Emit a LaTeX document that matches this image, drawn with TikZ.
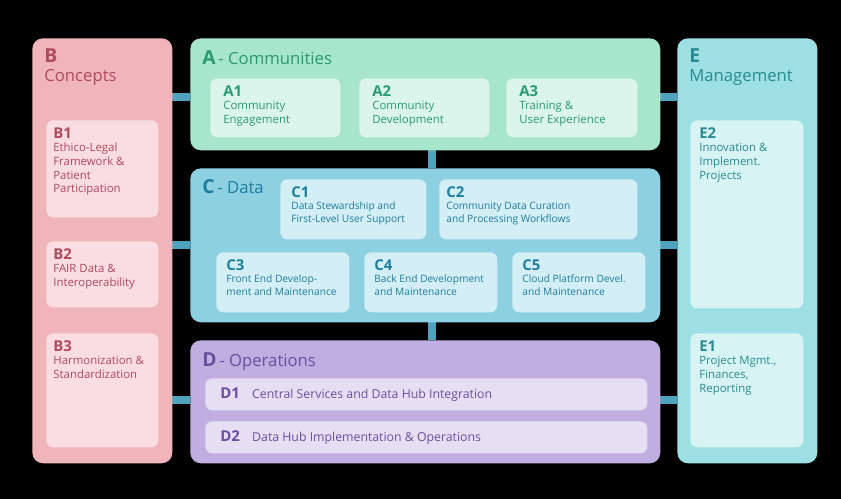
\documentclass[tikz,border=0pt]{standalone}
\usepackage{fontspec}
\setmainfont{Open Sans}
\usetikzlibrary{positioning}
\definecolor{bFill}{HTML}{F0B5BB}\definecolor{bIn}{HTML}{FADDE0}\definecolor{bTxt}{HTML}{B04A5E}
\definecolor{aFill}{HTML}{A8E6CC}\definecolor{aIn}{HTML}{DCF5EC}\definecolor{aTxt}{HTML}{2A9A72}
\definecolor{cFill}{HTML}{8DD0E2}\definecolor{cIn}{HTML}{D3EEF5}\definecolor{cTxt}{HTML}{1E7E9E}
\definecolor{dFill}{HTML}{C0AEE0}\definecolor{dIn}{HTML}{E6DEF3}\definecolor{dTxt}{HTML}{6A4FA0}
\definecolor{eFill}{HTML}{9DE0E4}\definecolor{eIn}{HTML}{D8F3F4}\definecolor{eTxt}{HTML}{2A8A90}
\definecolor{barCol}{HTML}{4FA3BC}
\tikzset{
  outer/.style={rectangle, rounded corners=6pt, inner sep=0pt, anchor=north west},
  inbox/.style={rectangle, rounded corners=4pt, inner sep=0pt, anchor=north west},
  title/.style={anchor=north west, inner sep=0pt, font=\fontsize{9.5}{11}\selectfont, align=left},
  label/.style={anchor=north west, inner sep=0pt, font=\fontsize{6.5}{7.8}\selectfont, align=left},
  bar/.style={line width=4pt},
}
\newcommand{\boxat}[6]{% name, fill colour, x1, y1, x2, y2
  \node (#1)[inbox, fill=#2, minimum width={(#5-#3)*0.02cm}, minimum height={(#6-#4)*0.02cm}] at (#3,#4) {};}
\begin{document}
\begin{tikzpicture}[x=0.02cm, y=-0.02cm]
\fill[black] (0,0) rectangle (841,499);
% connectors
\draw[bar, barCol] (172,97) -- (190,97) (172,245) -- (190,245) (172,400) -- (190,400)
  (660,97) -- (677,97) (660,245) -- (677,245) (660,400) -- (677,400)
  (432,150) -- (432,168) (432,322) -- (432,340);
% outer boxes
\node (B)[outer, fill=bFill, minimum width=2.8cm, minimum height=8.5cm] at (32,38) {};
\node (A)[outer, fill=aFill, minimum width=9.4cm, minimum height=2.24cm] at (190,38) {};
\node (C)[outer, fill=cFill, minimum width=9.4cm, minimum height=3.08cm] at (190,168) {};
\node (D)[outer, fill=dFill, minimum width=9.4cm, minimum height=2.46cm] at (190,340) {};
\node (E)[outer, fill=eFill, minimum width=2.8cm, minimum height=8.5cm] at (677,38) {};
\node[title, text=bTxt] at (44,48) {\textbf{\fontsize{11}{12}\selectfont B}\\Concepts};
\node[title, text=aTxt] at (202,50) {\textbf{\fontsize{11}{12}\selectfont A}\,- Communities};
\node[title, text=cTxt] at (202,179) {\textbf{\fontsize{11}{12}\selectfont C}\,- Data};
\node[title, text=dTxt] at (202,352) {\textbf{\fontsize{11}{12}\selectfont D}\,- Operations};
\node[title, text=eTxt] at (689,48) {\textbf{\fontsize{11}{12}\selectfont E}\\Management};
% inner boxes
\boxat{B1}{bIn}{46}{120}{158}{217}
\boxat{B2}{bIn}{46}{241}{158}{307}
\boxat{B3}{bIn}{46}{333}{158}{447}
\boxat{A1}{aIn}{210}{78}{340}{137}
\boxat{A2}{aIn}{359}{78}{489}{137}
\boxat{A3}{aIn}{506}{78}{637}{137}
\boxat{C1}{cIn}{280}{179}{426}{239}
\boxat{C2}{cIn}{439}{179}{637}{239}
\boxat{C3}{cIn}{216}{252}{349}{312}
\boxat{C4}{cIn}{364}{252}{497}{312}
\boxat{C5}{cIn}{512}{252}{645}{312}
\boxat{D1}{dIn}{205}{378}{647}{410}
\boxat{D2}{dIn}{205}{421}{647}{453}
\boxat{E2}{eIn}{690}{120}{803}{308}
\boxat{E1}{eIn}{690}{333}{803}{447}
% labels
\node[label, text=bTxt] at ([shift={(7,7)}]B1.north west) {\textbf{\fontsize{8.5}{10}\selectfont B1}\\Ethico-Legal\\Framework \&\\Patient\\Participation};
\node[label, text=bTxt] at ([shift={(7,7)}]B2.north west) {\textbf{\fontsize{8.5}{10}\selectfont B2}\\FAIR Data \&\\Interoperability};
\node[label, text=bTxt] at ([shift={(7,7)}]B3.north west) {\textbf{\fontsize{8.5}{10}\selectfont B3}\\Harmonization \&\\Standardization};
\node[label, text=aTxt] at ([shift={(13,7)}]A1.north west) {\textbf{\fontsize{8.5}{10}\selectfont A1}\\Community\\Engagement};
\node[label, text=aTxt] at ([shift={(13,7)}]A2.north west) {\textbf{\fontsize{8.5}{10}\selectfont A2}\\Community\\Development};
\node[label, text=aTxt] at ([shift={(13,7)}]A3.north west) {\textbf{\fontsize{8.5}{10}\selectfont A3}\\Training \&\\User Experience};
\node[label, text=cTxt, font=\fontsize{5.8}{7.2}\selectfont] at ([shift={(11,7)}]C1.north west) {\textbf{\fontsize{8.5}{10}\selectfont C1}\\Data Stewardship and\\First-Level User Support};
\node[label, text=cTxt, font=\fontsize{5.8}{7.2}\selectfont] at ([shift={(7,7)}]C2.north west) {\textbf{\fontsize{8.5}{10}\selectfont C2}\\Community Data Curation\\and Processing Workflows};
\node[label, text=cTxt, font=\fontsize{5.8}{7.2}\selectfont] at ([shift={(10,7)}]C3.north west) {\textbf{\fontsize{8.5}{10}\selectfont C3}\\Front End Develop-\\ment and Maintenance};
\node[label, text=cTxt, font=\fontsize{5.8}{7.2}\selectfont] at ([shift={(10,7)}]C4.north west) {\textbf{\fontsize{8.5}{10}\selectfont C4}\\Back End Development\\and Maintenance};
\node[label, text=cTxt, font=\fontsize{5.8}{7.2}\selectfont] at ([shift={(10,7)}]C5.north west) {\textbf{\fontsize{8.5}{10}\selectfont C5}\\Cloud Platform Devel.\\and Maintenance};
\node[label, text=dTxt, anchor=west, font=\fontsize{7}{8}\selectfont] at ([xshift=0.3cm]D1.west) {\textbf{\fontsize{8.5}{10}\selectfont D1}\quad Central Services and Data Hub Integration};
\node[label, text=dTxt, anchor=west, font=\fontsize{7}{8}\selectfont] at ([xshift=0.3cm]D2.west) {\textbf{\fontsize{8.5}{10}\selectfont D2}\quad Data Hub Implementation \& Operations};
\node[label, text=eTxt] at ([shift={(9,7)}]E2.north west) {\textbf{\fontsize{8.5}{10}\selectfont E2}\\Innovation \&\\Implement.\\Projects};
\node[label, text=eTxt] at ([shift={(9,7)}]E1.north west) {\textbf{\fontsize{8.5}{10}\selectfont E1}\\Project Mgmt.,\\Finances,\\Reporting};
\end{tikzpicture}
\end{document}
